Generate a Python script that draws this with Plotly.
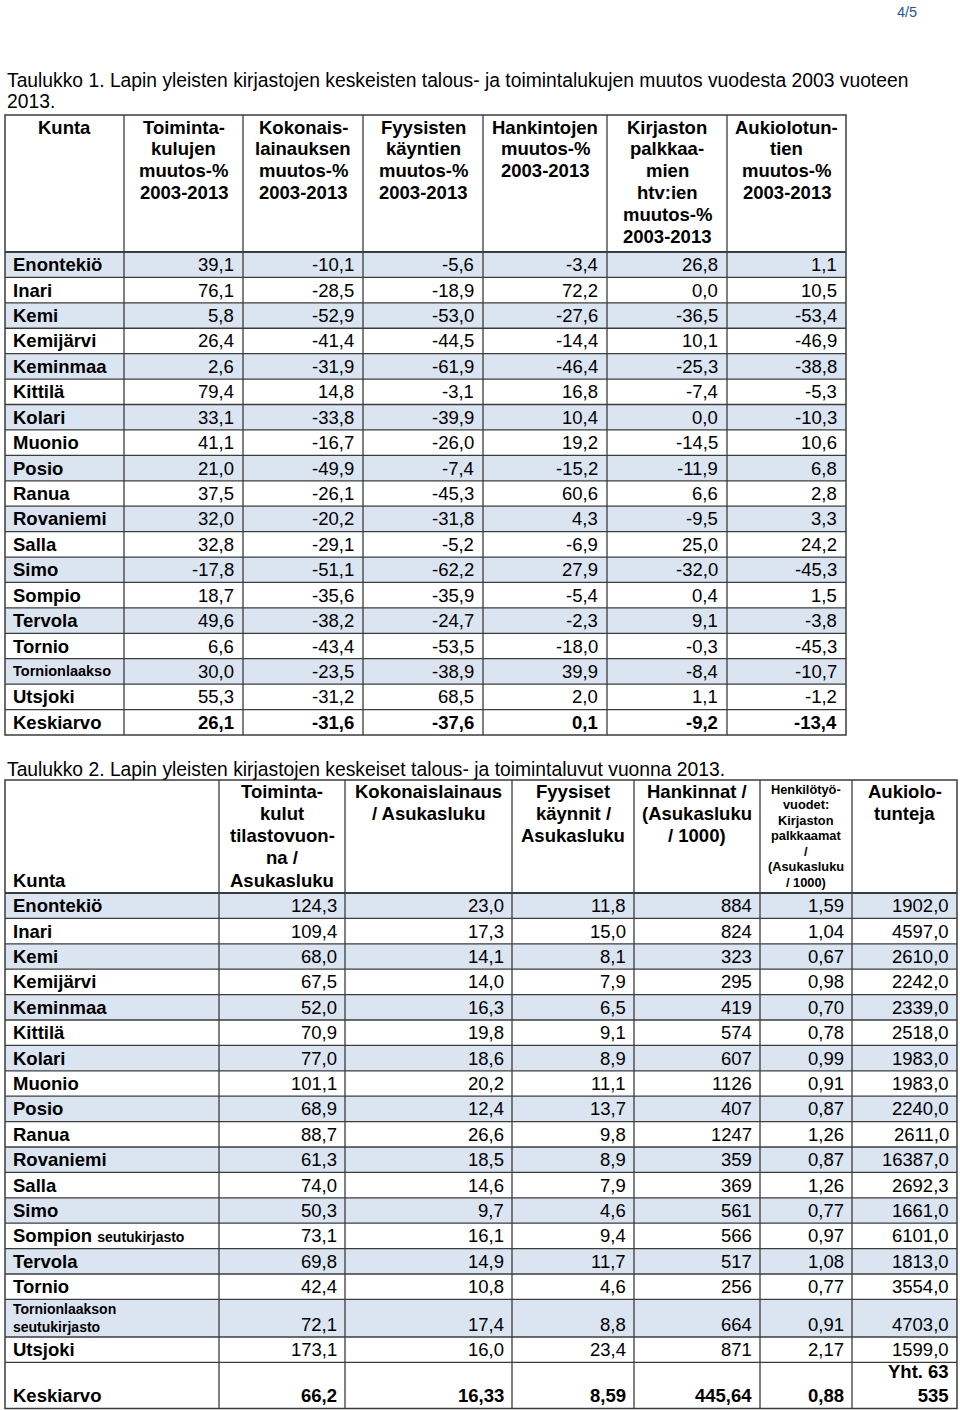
import plotly.graph_objects as go

# ---- Taulukko 1: muutos-% 2003-2013 ----
kunnat1 = ["Enontekiö", "Inari", "Kemi", "Kemijärvi", "Keminmaa", "Kittilä", "Kolari",
           "Muonio", "Posio", "Ranua", "Rovaniemi", "Salla", "Simo", "Sompio", "Tervola",
           "Tornio", "Tornionlaakso", "Utsjoki"]
toimintakulut_muutos = [39.1, 76.1, 5.8, 26.4, 2.6, 79.4, 33.1, 41.1, 21.0, 37.5, 32.0, 32.8,
                        -17.8, 18.7, 49.6, 6.6, 30.0, 55.3]
lainaus_muutos = [-10.1, -28.5, -52.9, -41.4, -31.9, 14.8, -33.8, -16.7, -49.9, -26.1, -20.2,
                  -29.1, -51.1, -35.6, -38.2, -43.4, -23.5, -31.2]
kaynnit_muutos = [-5.6, -18.9, -53.0, -44.5, -61.9, -3.1, -39.9, -26.0, -7.4, -45.3, -31.8,
                  -5.2, -62.2, -35.9, -24.7, -53.5, -38.9, 68.5]
hankinnat_muutos = [-3.4, 72.2, -27.6, -14.4, -46.4, 16.8, 10.4, 19.2, -15.2, 60.6, 4.3, -6.9,
                    27.9, -5.4, -2.3, -18.0, 39.9, 2.0]
htv_muutos = [26.8, 0.0, -36.5, 10.1, -25.3, -7.4, 0.0, -14.5, -11.9, 6.6, -9.5, 25.0, -32.0,
              0.4, 9.1, -0.3, -8.4, 1.1]
aukiolo_muutos = [1.1, 10.5, -53.4, -46.9, -38.8, -5.3, -10.3, 10.6, 6.8, 2.8, 3.3, 24.2, -45.3,
                  1.5, -3.8, -45.3, -10.7, -1.2]
keskiarvo1 = [26.1, -31.6, -37.6, 0.1, -9.2, -13.4]

otsikot1 = ["Kunta",
            "Toiminta-<br>kulujen<br>muutos-%<br>2003-2013",
            "Kokonais-<br>lainauksen<br>muutos-%<br>2003-2013",
            "Fyysisten<br>käyntien<br>muutos-%<br>2003-2013",
            "Hankintojen<br>muutos-%<br>2003-2013",
            "Kirjaston<br>palkkaa-<br>mien<br>htv:ien<br>muutos-%<br>2003-2013",
            "Aukiolotun-<br>tien<br>muutos-%<br>2003-2013"]

# ---- Taulukko 2: tunnusluvut 2013 ----
kunnat2 = ["Enontekiö", "Inari", "Kemi", "Kemijärvi", "Keminmaa", "Kittilä", "Kolari",
           "Muonio", "Posio", "Ranua", "Rovaniemi", "Salla", "Simo", "Sompion seutukirjasto",
           "Tervola", "Tornio", "Tornionlaakson seutukirjasto", "Utsjoki"]
toimintakulut_asukas = [124.3, 109.4, 68.0, 67.5, 52.0, 70.9, 77.0, 101.1, 68.9, 88.7, 61.3,
                        74.0, 50.3, 73.1, 69.8, 42.4, 72.1, 173.1]
lainaus_asukas = [23.0, 17.3, 14.1, 14.0, 16.3, 19.8, 18.6, 20.2, 12.4, 26.6, 18.5, 14.6, 9.7,
                  16.1, 14.9, 10.8, 17.4, 16.0]
kaynnit_asukas = [11.8, 15.0, 8.1, 7.9, 6.5, 9.1, 8.9, 11.1, 13.7, 9.8, 8.9, 7.9, 4.6, 9.4,
                  11.7, 4.6, 8.8, 23.4]
hankinnat_1000 = [884, 824, 323, 295, 419, 574, 607, 1126, 407, 1247, 359, 369, 561, 566, 517,
                  256, 664, 871]
htv_1000 = [1.59, 1.04, 0.67, 0.98, 0.70, 0.78, 0.99, 0.91, 0.87, 1.26, 0.87, 1.26, 0.77, 0.97,
            1.08, 0.77, 0.91, 2.17]
aukiolotunnit = [1902.0, 4597.0, 2610.0, 2242.0, 2339.0, 2518.0, 1983.0, 1983.0, 2240.0, 2611.0,
                 16387.0, 2692.3, 1661.0, 6101.0, 1813.0, 3554.0, 4703.0, 1599.0]
keskiarvo2 = [66.2, 16.33, 8.59, 445.64, 0.88]
aukiolo_yhteensa = "Yht. 63<br>535"

otsikot2 = ["Kunta",
            "Toiminta-<br>kulut<br>tilastovuon-<br>na /<br>Asukasluku",
            "Kokonaislainaus<br>/ Asukasluku",
            "Fyysiset<br>käynnit /<br>Asukasluku",
            "Hankinnat /<br>(Asukasluku<br>/ 1000)",
            "Henkilötyö-<br>vuodet:<br>Kirjaston<br>palkkaamat<br>/<br>(Asukasluku<br>/ 1000)",
            "Aukiolo-<br>tunteja"]

FONT = "Liberation Sans, Arial, sans-serif"
BLUE = "#dbe5f1"
LINE = "#3c3c3c"
SIZE = 18.5


def fmt(v, d):
    return f"{v:.{d}f}".replace(".", ",")


fig = go.Figure()
shapes = []
notes = []


def txt(x, y, text, size=SIZE, xanchor="center", yanchor="middle", bold=False, align=None):
    if bold:
        text = "<b>" + text + "</b>"
    notes.append(dict(x=x, y=y, xref="x", yref="y", text=text, showarrow=False,
                      xanchor=xanchor, yanchor=yanchor, align=align or xanchor,
                      font=dict(family=FONT, size=size, color="black"), borderpad=0))


def draw_table(xs, top, head_h, row_hs, fills):
    bounds = [top + head_h]
    for h in row_hs:
        bounds.append(bounds[-1] + h)
    for i, f in enumerate(fills):
        if f:
            shapes.append(dict(type="rect", xref="x", yref="y", x0=xs[0], x1=xs[-1],
                               y0=bounds[i], y1=bounds[i + 1], fillcolor=BLUE,
                               line=dict(width=0), layer="below"))
    for y in bounds[1:-1]:
        shapes.append(dict(type="line", xref="x", yref="y", x0=xs[0], x1=xs[-1], y0=y, y1=y,
                           line=dict(color=LINE, width=1.3)))
    for x in xs[1:-1]:
        shapes.append(dict(type="line", xref="x", yref="y", x0=x, x1=x, y0=top, y1=bounds[-1],
                           line=dict(color=LINE, width=1.3)))
    shapes.append(dict(type="line", xref="x", yref="y", x0=xs[0], x1=xs[-1], y0=bounds[0],
                       y1=bounds[0], line=dict(color=LINE, width=2.2)))
    shapes.append(dict(type="rect", xref="x", yref="y", x0=xs[0], x1=xs[-1], y0=top,
                       y1=bounds[-1], line=dict(color=LINE, width=1.5)))
    return bounds


# ---- page number and titles ----
notes.append(dict(x=919, y=12, xref="x", yref="y", text="4/5", showarrow=False, xanchor="right",
                  yanchor="middle", font=dict(family=FONT, size=14.5, color="#2457a6")))
for k, line in enumerate(["Taulukko 1. Lapin yleisten kirjastojen keskeisten talous- ja "
                          "toimintalukujen muutos vuodesta 2003 vuoteen", "2013."]):
    notes.append(dict(x=5, y=80 + k * 21.5, xref="x", yref="y", text=line, showarrow=False,
                      xanchor="left", yanchor="middle",
                      font=dict(family=FONT, size=19.3, color="black")))
notes.append(dict(x=5, y=769, xref="x", yref="y",
                  text="Taulukko 2. Lapin yleisten kirjastojen keskeiset talous- ja "
                       "toimintaluvut vuonna 2013.",
                  showarrow=False, xanchor="left", yanchor="middle",
                  font=dict(family=FONT, size=19.3, color="black")))

# ---- table 1 ----
xs1 = [5, 124, 243, 363, 483, 607, 727, 846]
n1 = len(kunnat1) + 1
fills1 = [i % 2 == 0 and i < n1 - 1 for i in range(n1)]
b1 = draw_table(xs1, 115, 137, [25.42] * n1, fills1)
for j, head in enumerate(otsikot1):
    for k, line in enumerate(head.split("<br>")):
        txt((xs1[j] + xs1[j + 1]) / 2, 127 + k * 21.8, line, bold=True)
cols1 = [toimintakulut_muutos, lainaus_muutos, kaynnit_muutos, hankinnat_muutos,
         htv_muutos, aukiolo_muutos]
for i in range(n1):
    yc = (b1[i] + b1[i + 1]) / 2
    last = i == n1 - 1
    name = "Keskiarvo" if last else kunnat1[i]
    txt(xs1[0] + 7, yc, name, size=14.5 if name == "Tornionlaakso" else SIZE,
        xanchor="left", bold=True)
    for j, col in enumerate(cols1):
        v = keskiarvo1[j] if last else col[i]
        txt(xs1[j + 2] - 8, yc, fmt(v, 1), xanchor="right", bold=last)

# ---- table 2 ----
xs2 = [5, 219, 345, 512, 634, 760, 852, 957]
n2 = len(kunnat2) + 1
row_h2 = [25.4] * n2
row_h2[16] = 37.6
row_h2[18] = 46
fills2 = [i % 2 == 0 and i < n2 - 1 for i in range(n2)]
b2 = draw_table(xs2, 780, 113, row_h2, fills2)
for j, head in enumerate(otsikot2):
    lines = head.split("<br>")
    if j == 0:
        txt(xs2[0] + 7, 791 + 4 * 22.3, lines[0], xanchor="left", bold=True)
    elif j == 5:
        for k, line in enumerate(lines):
            txt((xs2[j] + xs2[j + 1]) / 2, 789 + k * 15.5, line, size=12.8, bold=True)
    else:
        for k, line in enumerate(lines):
            txt((xs2[j] + xs2[j + 1]) / 2, 791 + k * 22.3, line, bold=True)
cols2 = [toimintakulut_asukas, lainaus_asukas, kaynnit_asukas, hankinnat_1000, htv_1000,
         aukiolotunnit]
decs2 = [1, 1, 1, 0, 2, 1]
for i in range(n2):
    tall = row_h2[i] > 30
    yc = (b2[i] + b2[i + 1]) / 2
    ya = "bottom" if tall else "middle"
    yy = b2[i + 1] - 1.5 if tall else yc
    last = i == n2 - 1
    name = "Keskiarvo" if last else kunnat2[i]
    if name.startswith("Tornionlaakson"):
        label = name.replace(" ", "<br>")
        txt(xs2[0] + 7, yy, label, size=14, xanchor="left", yanchor=ya, bold=True)
    elif "seutukirjasto" in name:
        first, rest = name.split(" ", 1)
        label = first + " <span style='font-size:14px'>" + rest + "</span>"
        txt(xs2[0] + 7, yy, label, xanchor="left", yanchor=ya, bold=True)
    else:
        txt(xs2[0] + 7, yy, name, xanchor="left", yanchor=ya, bold=True)
    for j, col in enumerate(cols2):
        if last:
            s = fmt(keskiarvo2[j], 2 if j > 0 else 1) if j < 5 else aukiolo_yhteensa
        else:
            s = fmt(col[i], decs2[j])
        txt(xs2[j + 2] - 7, yy, s, xanchor="right", yanchor=ya, bold=last)

fig.update_layout(
    width=960, height=1410,
    margin=dict(l=0, r=0, t=0, b=0),
    paper_bgcolor="white", plot_bgcolor="white",
    xaxis=dict(range=[0, 960], visible=False, fixedrange=True),
    yaxis=dict(range=[1410, 0], visible=False, fixedrange=True),
    shapes=shapes, annotations=notes, showlegend=False,
)
fig.write_html("out.html", config={"displayModeBar": False},
               post_script="document.body.style.margin='0';")
